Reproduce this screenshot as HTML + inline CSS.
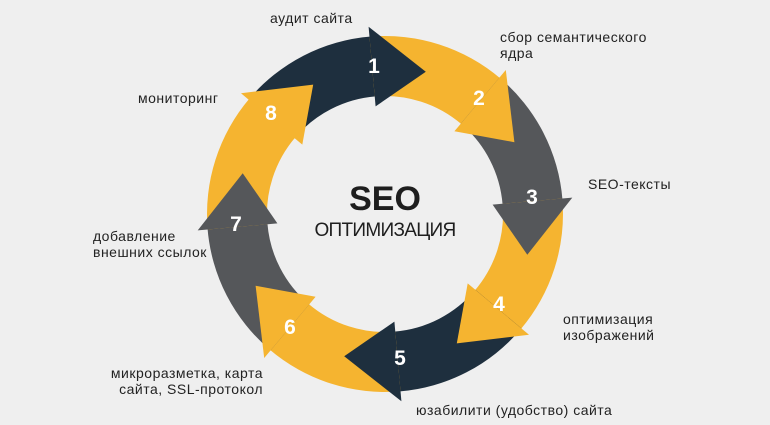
<!DOCTYPE html>
<html><head><meta charset="utf-8"><style>
html,body{margin:0;padding:0}
body{width:770px;height:425px;background:#efefef;position:relative;overflow:hidden;font-family:"Liberation Sans","DejaVu Sans",sans-serif}
.l{position:absolute;font-size:14px;letter-spacing:0.5px;color:#222;line-height:16px;white-space:nowrap}
.n{position:absolute;color:#fff;font-weight:bold;font-size:21px;transform:translate(-50%,-50%)}
svg{position:absolute;left:0;top:0}
</style></head><body>
<svg id="s" width="770" height="425"></svg>
<div class="l" style="left:270px;top:10px">аудит сайта</div>
<div class="l" style="left:500px;top:29px">сбор семантического<br>ядра</div>
<div class="l" style="left:138px;top:90px">мониторинг</div>
<div class="l" style="left:588px;top:176px">SEO-тексты</div>
<div class="l" style="left:93px;top:228px">добавление<br>внешних ссылок</div>
<div class="l" style="left:563px;top:311px">оптимизация<br>изображений</div>
<div class="l" style="left:63px;top:365px;text-align:right;width:200px">микроразметка, карта<br>сайта, SSL-протокол</div>
<div class="l" style="left:416px;top:402px">юзабилити (удобство) сайта</div>
<div style="position:absolute;left:285px;width:200px;text-align:center;top:180px;font-size:34px;font-weight:bold;color:#1e1e1e">SEO</div>
<div style="position:absolute;left:285px;width:200px;text-align:center;top:220px;font-size:19px;color:#1e1e1e;letter-spacing:-0.7px">ОПТИМИЗАЦИЯ</div>
<div class="n" style="left:374px;top:67px">1</div>
<div class="n" style="left:479px;top:99px">2</div>
<div class="n" style="left:532px;top:198px">3</div>
<div class="n" style="left:499px;top:305px">4</div>
<div class="n" style="left:400px;top:359px">5</div>
<div class="n" style="left:290px;top:328px">6</div>
<div class="n" style="left:236px;top:225px">7</div>
<div class="n" style="left:271px;top:114px">8</div>
<script>
var cx=385,cy=214,ri=118,ro=178,rm=148,hi=108,ho=188,H=21;
var cols=["#1e2f3e","#f5b430","#55575a","#f5b430","#1e2f3e","#f5b430","#55575a","#f5b430"];
function p(a,r){var t=a*Math.PI/180;return (cx+r*Math.sin(t)).toFixed(1)+","+(cy-r*Math.cos(t)).toFixed(1);}
var bodies="",heads="";
for(var k=0;k<8;k++){
 var tip=16+45*k,b=tip-H+0.5,s=tip-45-H;
 bodies+='<path fill="'+cols[k]+'" d="M'+p(s,ro)+' A'+ro+','+ro+' 0 0 1 '+p(b,ro)+' L'+p(b,ri)+' A'+ri+','+ri+' 0 0 0 '+p(s,ri)+' Z"/>';
 heads+='<path fill="'+cols[k]+'" d="M'+p(tip-H,ho)+' L'+p(tip,rm)+' L'+p(tip-H,hi)+' Z"/>';
}
document.getElementById("s").innerHTML=bodies+heads;
</script>
</body></html>
